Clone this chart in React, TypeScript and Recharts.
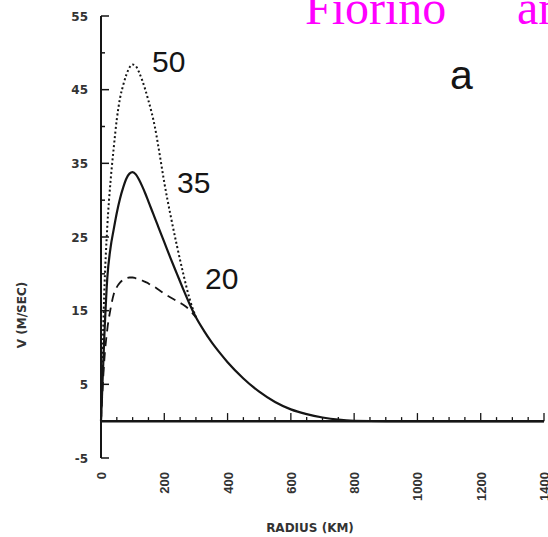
import React from "react";
import { LineChart, Line, XAxis, YAxis, ReferenceLine } from "recharts";

// radius (km) and tangential wind (m/s) for the three vortex profiles
const radius = [0, 10, 20, 30, 40, 50, 60, 70, 80, 90, 100, 110, 120, 130, 140, 150, 160, 170, 180, 190, 200, 220, 240, 260, 280, 300, 325, 350, 375, 400, 450, 500, 550, 600, 650, 700, 750, 800, 900, 1000, 1100, 1200, 1300, 1400];
const v35 = [0, 11, 19.5, 23.5, 26, 28.3, 30.2, 31.7, 32.9, 33.6, 33.8, 33.5, 32.8, 31.9, 30.9, 29.8, 28.7, 27.6, 26.5, 25.4, 24.3, 22.1, 20, 17.9, 15.9, 14.1, 12.3, 10.7, 9.3, 8, 5.8, 4, 2.6, 1.6, 0.95, 0.5, 0.2, 0.06, 0, 0, 0, 0, 0, 0];
const v50 = [0, 17, 26.5, 32.5, 37, 41, 43.8, 45.6, 47, 48, 48.4, 48.2, 47.4, 46.3, 45, 43.5, 41.9, 40, 37.6, 35, 32.4, 27.9, 23.8, 20, 16.6, 14.1];
const v20 = [0, 8, 12.5, 15.2, 17.2, 18.2, 18.8, 19.2, 19.4, 19.5, 19.5, 19.4, 19.3, 19.1, 18.9, 18.7, 18.4, 18.2, 17.9, 17.6, 17.3, 16.8, 16.3, 15.8, 15.1, 14.1];

const xTicks = [0, 200, 400, 600, 800, 1000, 1200, 1400];
const xMinorTicks = [50, 100, 150, 200, 250, 300, 350, 400, 450, 500, 550, 600, 650, 700, 750, 800, 850, 900, 950, 1000, 1050, 1100, 1150, 1200, 1250, 1300, 1350, 1400];
const yTicks = [-5, 0, 5, 10, 15, 20, 25, 30, 35, 40, 45, 50, 55];

const data = radius.map((r, i) => ({
  r,
  v35: v35[i],
  v50: i < v50.length ? v50[i] : null,
  v20: i < v20.length ? v20[i] : null,
}));

const ink = "#151515";
const axisFont = "'DejaVu Sans', sans-serif";

const YTick = (props: any) => {
  const { x, y, payload } = props;
  const v = payload.value;
  const labelled = (v + 5) % 10 === 0;
  if (v === 0) return null;
  return (
    <g>
      <line x1={x} x2={x + (labelled ? 8 : 4)} y1={y} y2={y} stroke={ink} strokeWidth={1.5} />
      {labelled && (
        <text x={x - 13} y={y} dy={4.5} textAnchor="end" fontSize={12} fontWeight="bold" fontFamily={axisFont} fill="#333">
          {v}
        </text>
      )}
    </g>
  );
};

const XTick = (props: any) => {
  const { x, y, payload } = props;
  return (
    <text
      transform={`translate(${x},${y + 14}) rotate(-90)`}
      dy={5}
      textAnchor="end"
      fontSize={13}
      fontWeight="bold"
      fontFamily="'Liberation Sans Narrow', 'Liberation Sans', sans-serif"
      fill="#333"
    >
      {payload.value}
    </text>
  );
};

export default function App() {
  return (
    <div style={{ position: "absolute", left: 0, top: 0, width: 548, height: 537, background: "#fff" }}>
      <LineChart width={548} height={537} data={data} margin={{ top: 16, right: 4, bottom: 0, left: 0 }}>
        <XAxis
          dataKey="r"
          type="number"
          domain={[0, 1400]}
          ticks={xTicks}
          height={79}
          axisLine={false}
          tickLine={false}
          tickSize={0}
          tickMargin={0}
          tick={<XTick />}
          interval={0}
        />
        <YAxis
          type="number"
          domain={[-5, 55]}
          ticks={yTicks}
          width={101}
          axisLine={{ stroke: ink, strokeWidth: 2 }}
          tickLine={false}
          tickSize={0}
          tickMargin={0}
          tick={<YTick />}
          interval={0}
        />
        <ReferenceLine y={0} stroke={ink} strokeWidth={2.5} />
        {xMinorTicks.map((r) => (
          <ReferenceLine
            key={r}
            segment={[{ x: r, y: 0 }, { x: r, y: r % 200 === 0 ? 1.1 : 0.55 }]}
            stroke={ink}
            strokeWidth={1.3}
          />
        ))}
        <Line type="monotone" dataKey="v50" stroke={ink} strokeWidth={2} strokeDasharray="2 2.5" dot={false} isAnimationActive={false} />
        <Line type="monotone" dataKey="v20" stroke={ink} strokeWidth={1.8} strokeDasharray="9 6" dot={false} isAnimationActive={false} />
        <Line type="monotone" dataKey="v35" stroke={ink} strokeWidth={2.2} dot={false} isAnimationActive={false} />
      </LineChart>
      <svg width={548} height={537} style={{ position: "absolute", left: 0, top: 0, pointerEvents: "none" }}>
        <text x={305} y={24} fontSize={48} fontFamily="'Liberation Serif', serif" fill="#ff00ff">
          Fiorino<tspan x={517}>and Elsberry</tspan>
        </text>
        <text x={450} y={89} fontSize={41} fontFamily="'Liberation Sans', sans-serif" fill={ink}>a</text>
        <text x={152} y={72} fontSize={30} fontFamily="'Liberation Sans', sans-serif" fill={ink}>50</text>
        <text x={177} y={193} fontSize={30} fontFamily="'Liberation Sans', sans-serif" fill={ink}>35</text>
        <text x={205} y={289} fontSize={30} fontFamily="'Liberation Sans', sans-serif" fill={ink}>20</text>
        <text
          transform="translate(26,315) rotate(-90)"
          textAnchor="middle"
          fontSize={12}
          fontWeight="bold"
          fontFamily={axisFont}
          fill="#333"
        >
          V (M/SEC)
        </text>
        <text x={310} y={532} textAnchor="middle" fontSize={12} fontWeight="bold" fontFamily={axisFont} fill="#333">
          RADIUS (KM)
        </text>
      </svg>
    </div>
  );
}
